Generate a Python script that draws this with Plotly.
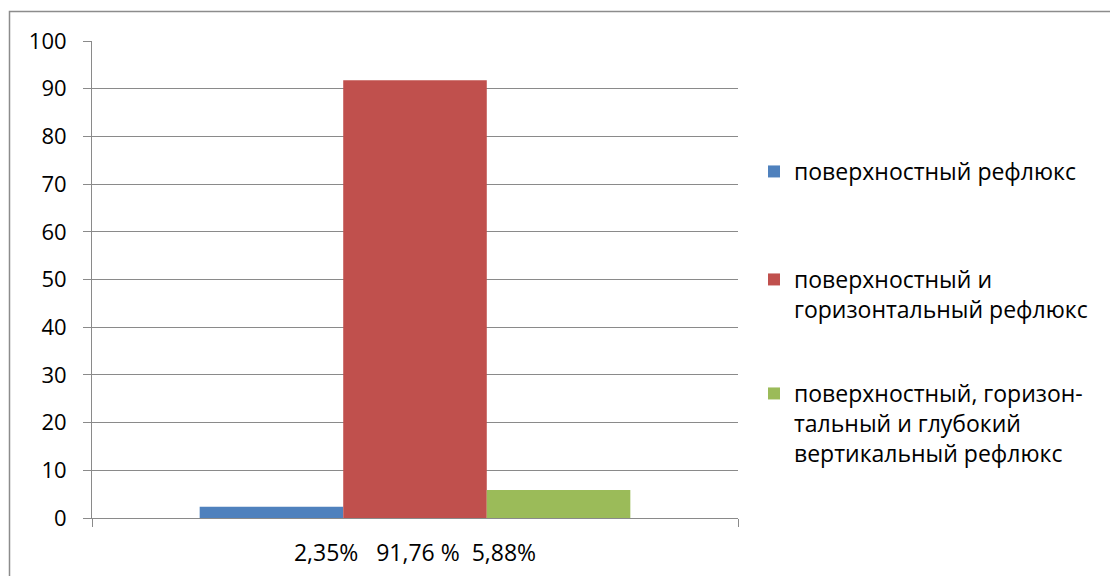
import plotly.graph_objects as go

# Chart data
categories = ["2,35%\u00a0\u00a0\u00a091,76 %\u00a0\u00a05,88%"]
series_names = [
    "поверхностный рефлюкс",
    "поверхностный и<br>горизонтальный рефлюкс",
    "поверхностный, горизон-<br>тальный и глубокий<br>вертикальный рефлюкс",
]
series_values = [[2.35], [91.76], [5.88]]
series_colors = ["#4F81BD", "#C0504D", "#9BBB59"]
y_ticks = list(range(0, 101, 10))

FONT = "Open Sans"
GRID = "#8A8A8A"
W, H = 1110, 576
L, R, T, B = 92, 372, 41, 58
plot_w, plot_h = W - L - R, H - T - B


def px_x(p):
    return (p - L) / plot_w


def px_y(p):
    return (H - B - p) / plot_h


fig = go.Figure()
legend_names = ["legend", "legend2", "legend3"]
for name, vals, col, lg in zip(series_names, series_values, series_colors, legend_names):
    fig.add_trace(go.Bar(
        x=categories, y=vals, name=name, marker=dict(color=col, line=dict(width=0)),
        legend=lg, hoverinfo="skip",
    ))

# each legend entry is its own legend box, stacked down the right side
legend_tops = [150, 258, 372]
legend_common = dict(
    font=dict(family=FONT, size=23, color="#000000"),
    bgcolor="rgba(0,0,0,0)", borderwidth=0, valign="top",
    xanchor="left", yanchor="top", itemclick=False, itemdoubleclick=False,
)
layout_legends = {}
for lg, top in zip(legend_names, legend_tops):
    layout_legends[lg] = dict(x=px_x(754), y=px_y(top), **legend_common)

fig.update_layout(
    width=W, height=H,
    margin=dict(l=L, r=R, t=T, b=B, pad=0, autoexpand=False),
    paper_bgcolor="white", plot_bgcolor="white",
    barmode="group", bargap=1/3, bargroupgap=0,
    font=dict(family=FONT, size=22, color="#000000"),
    showlegend=True,
    xaxis=dict(
        type="category", showgrid=False, showline=True, linecolor=GRID, linewidth=1,
        ticks="outside", tickson="boundaries", ticklen=8, tickcolor=GRID, tickwidth=1,
        tickfont=dict(family=FONT, size=23), ticklabelstandoff=14, automargin=False,
    ),
    yaxis=dict(
        range=[0, 100], tickvals=y_ticks, showgrid=True, gridcolor=GRID, gridwidth=1,
        showline=True, linecolor=GRID, linewidth=1, zeroline=False,
        ticks="outside", ticklen=8, tickcolor=GRID, tickwidth=1,
        tickfont=dict(family=FONT, size=22), ticklabelstandoff=12, automargin=False,
    ),
    shapes=[dict(
        type="rect", xref="paper", yref="paper",
        x0=px_x(9.5), x1=px_x(1130), y0=px_y(11.5), y1=px_y(600),
        line=dict(color="#8C8C8C", width=1.5), fillcolor="rgba(0,0,0,0)", layer="below",
    )],
    **layout_legends,
)

fig.write_html("out.html")
